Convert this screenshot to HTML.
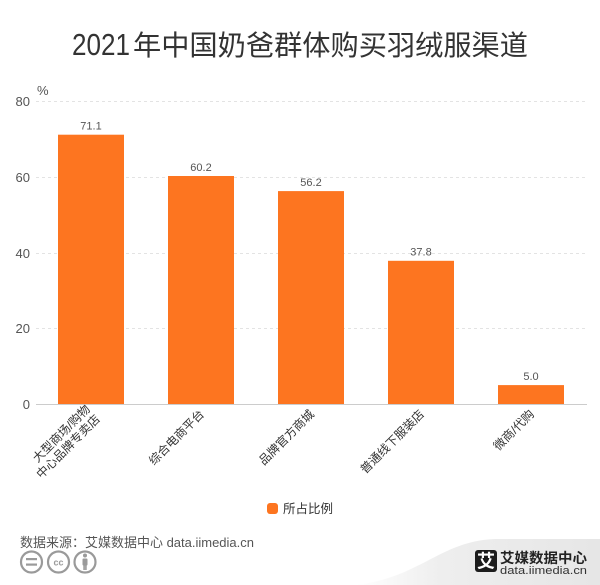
<!DOCTYPE html>
<html>
<head>
<meta charset="utf-8">
<style>
  html,body{margin:0;padding:0;background:#fff;}
  svg{display:block;}
  text{font-family:"Liberation Sans","Noto Sans CJK SC",sans-serif;}
  .cjk{font-family:"Liberation Sans","Noto Sans CJK SC",sans-serif;}
</style>
</head>
<body>
<svg width="600" height="585" viewBox="0 0 600 585" xmlns="http://www.w3.org/2000/svg">
  <defs>
    <linearGradient id="sw" x1="0" y1="0" x2="1" y2="0">
      <stop offset="0" stop-color="#ffffff"/>
      <stop offset="0.35" stop-color="#eeeeee"/>
      <stop offset="1" stop-color="#e6e6e6"/>
    </linearGradient>
  </defs>
  <rect x="0" y="0" width="600" height="585" fill="#fff"/>

  <!-- Title -->
  <text x="72" y="55" font-size="31" fill="#333" textLength="58" lengthAdjust="spacingAndGlyphs">2021</text>
  <text x="133" y="55" font-size="28" fill="#333" class="cjk" textLength="395" lengthAdjust="spacingAndGlyphs">年中国奶爸群体购买羽绒服渠道</text>

  <!-- grid lines -->
  <g stroke="#e3e3e3" stroke-width="1" stroke-dasharray="3 3">
    <line x1="36" y1="101.5" x2="587" y2="101.5"/>
    <line x1="36" y1="177.5" x2="587" y2="177.5"/>
    <line x1="36" y1="253.5" x2="587" y2="253.5"/>
    <line x1="36" y1="328.5" x2="587" y2="328.5"/>
  </g>

  <!-- y-axis labels -->
  <g font-size="13" fill="#555" text-anchor="end">
    <text x="30" y="106">80</text>
    <text x="30" y="182">60</text>
    <text x="30" y="258">40</text>
    <text x="30" y="333">20</text>
    <text x="30" y="409">0</text>
  </g>
  <text x="37" y="95" font-size="13" fill="#555">%</text>

  <!-- bars -->
  <g fill="#FD7520">
    <rect x="58" y="134.7" width="66" height="269.3"/>
    <rect x="168" y="176.0" width="66" height="228.0"/>
    <rect x="278" y="191.1" width="66" height="212.9"/>
    <rect x="388" y="260.8" width="66" height="143.2"/>
    <rect x="498" y="385.1" width="66" height="18.9"/>
  </g>

  <!-- axis line -->
  <line x1="36" y1="404.5" x2="587" y2="404.5" stroke="#cccccc" stroke-width="1"/>

  <!-- value labels -->
  <g font-size="11" fill="#555" text-anchor="middle">
    <text x="91" y="129.5">71.1</text>
    <text x="201" y="171">60.2</text>
    <text x="311" y="186">56.2</text>
    <text x="421" y="255.5">37.8</text>
    <text x="531" y="380">5.0</text>
  </g>

  <!-- category labels -->
  <g font-size="12" fill="#333" text-anchor="end" class="cjk">
    <text transform="translate(93,412) rotate(-45)"><tspan x="0" y="-3">大型商场/购物</tspan><tspan x="0" y="11">中心品牌专卖店</tspan></text>
    <text transform="translate(202,412) rotate(-45)" y="4">综合电商平台</text>
    <text transform="translate(312,412) rotate(-45)" y="4">品牌官方商城</text>
    <text transform="translate(422,412) rotate(-45)" y="4">普通线下服装店</text>
    <text transform="translate(532,412) rotate(-45)" y="4">微商/代购</text>
  </g>

  <!-- legend -->
  <rect x="267" y="503" width="11" height="11" rx="3" fill="#FD7520"/>
  <text x="283" y="513" font-size="12.5" fill="#333" class="cjk">所占比例</text>

  <!-- source -->
  <text x="20" y="547" font-size="13" fill="#555" class="cjk" textLength="234" lengthAdjust="spacingAndGlyphs">数据来源：艾媒数据中心 data.iimedia.cn</text>

  <!-- CC icons -->
  <g fill="none" stroke="#9a9a9a" stroke-width="2.2">
    <circle cx="31.5" cy="562" r="10.5"/>
    <circle cx="58.5" cy="562" r="10.5"/>
    <circle cx="85" cy="562" r="10.5"/>
  </g>
  <g fill="#9a9a9a">
    <rect x="26" y="558" width="11" height="2.2"/>
    <rect x="26" y="563.5" width="11" height="2.2"/>
    <text x="58.5" y="565.5" font-size="9" font-weight="bold" text-anchor="middle">cc</text>
    <circle cx="85" cy="555.5" r="2"/>
    <rect x="82.5" y="558.5" width="5" height="7" rx="1"/>
    <rect x="83.3" y="565" width="1.6" height="5"/>
    <rect x="85.1" y="565" width="1.6" height="5"/>
  </g>

  <!-- bottom right swoosh & logo -->
  <path d="M355,585 C420,578 440,541 495,539 L600,539 L600,585 Z" fill="url(#sw)"/>
  <rect x="475" y="550" width="22" height="22" rx="3" fill="#1c1c1c"/>
  <text x="486" y="567.5" font-size="18" font-weight="bold" fill="#fff" text-anchor="middle" class="cjk">艾</text>
  <text x="500" y="563" font-size="14" font-weight="bold" fill="#222" class="cjk" textLength="87" lengthAdjust="spacingAndGlyphs">艾媒数据中心</text>
  <text x="500" y="574" font-size="11" fill="#333" textLength="87" lengthAdjust="spacingAndGlyphs">data.iimedia.cn</text>
</svg>
</body>
</html>
